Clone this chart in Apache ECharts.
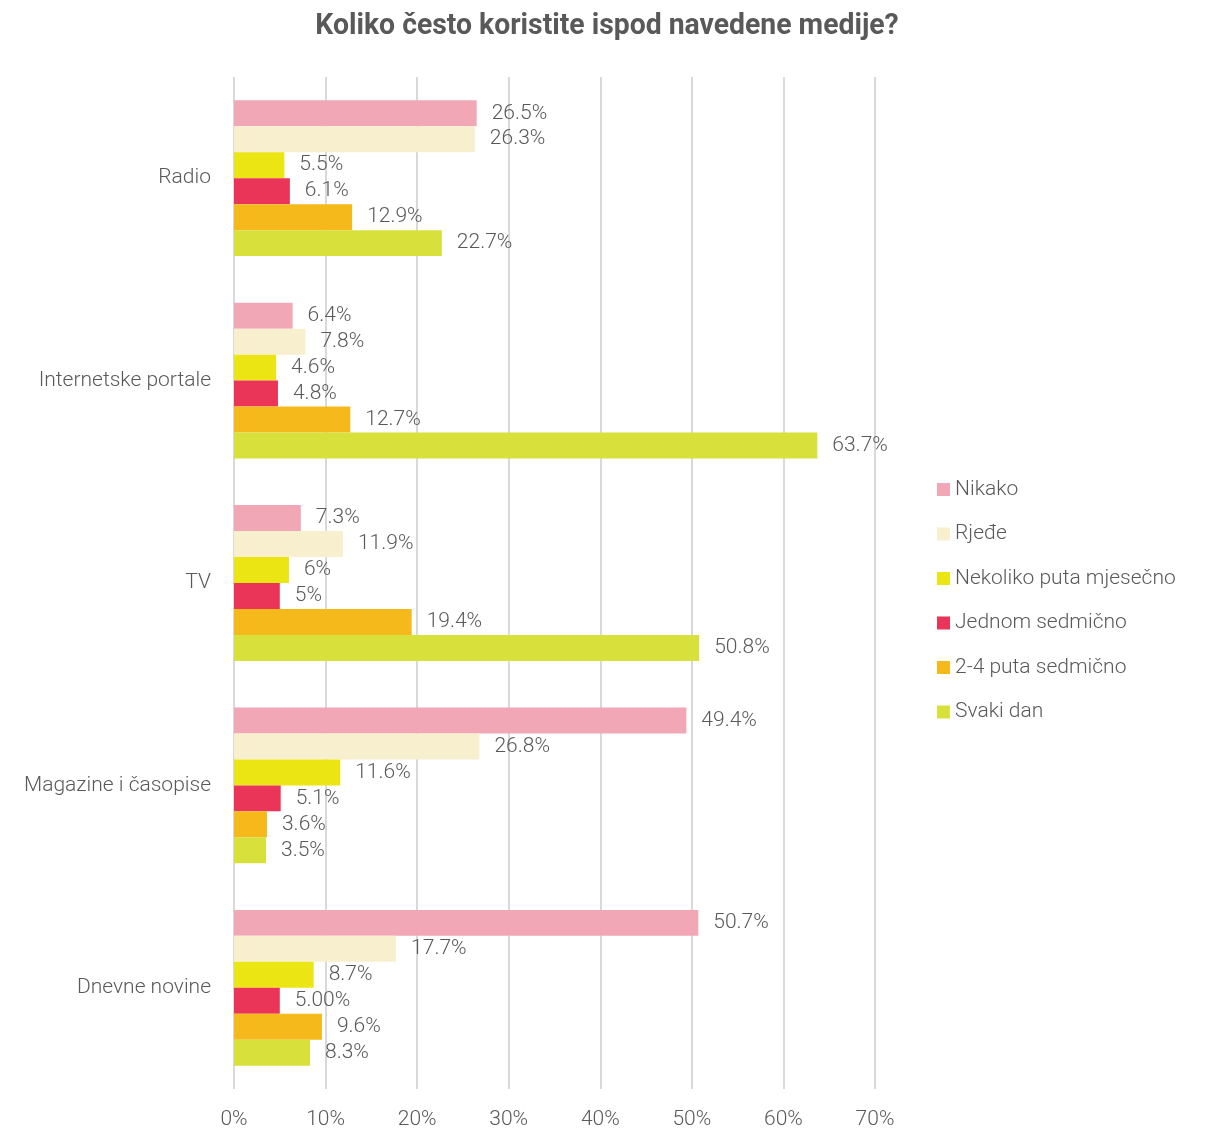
<!DOCTYPE html>
<html>
<head>
<meta charset="utf-8">
<script src="https://cdn.jsdelivr.net/npm/echarts@6/dist/echarts.min.js"></script>
<style>
html,body{margin:0;padding:0;background:#fff;}
#chart{width:1208px;height:1132px;}
</style>
</head>
<body>
<div id="chart"></div>
<script>
const categories = ['Radio', 'Internetske portale', 'TV', 'Magazine i časopise', 'Dnevne novine'];
const seriesNames = ['Nikako', 'Rjeđe', 'Nekoliko puta mjesečno', 'Jednom sedmično', '2-4 puta sedmično', 'Svaki dan'];
const nikako = [26.5, 6.4, 7.3, 49.4, 50.7];
const rjedje = [26.3, 7.8, 11.9, 26.8, 17.7];
const nekolikoMjesecno = [5.5, 4.6, 6, 11.6, 8.7];
const jednomSedmicno = [6.1, 4.8, 5, 5.1, 5.00];
const dvaCetiriSedmicno = [12.9, 12.7, 19.4, 3.6, 9.6];
const svakiDan = [22.7, 63.7, 50.8, 3.5, 8.3];
const labelNikako = ['26.5%', '6.4%', '7.3%', '49.4%', '50.7%'];
const labelRjedje = ['26.3%', '7.8%', '11.9%', '26.8%', '17.7%'];
const labelNekoliko = ['5.5%', '4.6%', '6%', '11.6%', '8.7%'];
const labelJednom = ['6.1%', '4.8%', '5%', '5.1%', '5.00%'];
const labelDvaCetiri = ['12.9%', '12.7%', '19.4%', '3.6%', '9.6%'];
const labelSvaki = ['22.7%', '63.7%', '50.8%', '3.5%', '8.3%'];
const xTicks = [0, 10, 20, 30, 40, 50, 60, 70];
const titleText = 'Koliko često koristite ispod navedene medije?';

const colors = ['#f2a7b6', '#f8efce', '#ece514', '#ea3458', '#f5b91b', '#d8e03b'];
const allValues = [nikako, rjedje, nekolikoMjesecno, jednomSedmicno, dvaCetiriSedmicno, svakiDan];
const allLabels = [labelNikako, labelRjedje, labelNekoliko, labelJednom, labelDvaCetiri, labelSvaki];
const FONT = 'Roboto, "DejaVu Sans Condensed", sans-serif';
const TXT = '#595959';

const chart = echarts.init(document.getElementById('chart'), null, {renderer: 'canvas'});
chart.setOption({
  backgroundColor: '#ffffff',
  animation: false,
  graphic: [{
    type: 'text', x: 607, y: 26, scaleX: 0.945,
    style: {
      text: titleText, align: 'center', verticalAlign: 'middle',
      font: 'bold 30px Roboto, sans-serif', fill: TXT
    }
  }],
  legend: {
    orient: 'vertical', left: 937, top: 479, padding: 0,
    itemWidth: 13, itemHeight: 13, itemGap: 23.5, itemNameGap: 6,
    icon: 'rect',
    textStyle: {fontFamily: FONT, fontWeight: 300, fontSize: 21, color: TXT},
    data: seriesNames
  },
  grid: {left: 234, right: 333, top: 77, bottom: 43, containLabel: false},
  xAxis: {
    type: 'value', min: 0, max: 70, interval: 10,
    axisLine: {show: false}, axisTick: {show: false},
    splitLine: {show: true, lineStyle: {color: '#d9d9d9', width: 2}},
    axisLabel: {formatter: v => v + '%', fontFamily: FONT, fontWeight: 300, fontSize: 21, color: TXT, margin: 20}
  },
  yAxis: {
    type: 'category', inverse: true, data: categories,
    axisLine: {show: false}, axisTick: {show: false},
    axisLabel: {fontFamily: FONT, fontWeight: 300, fontSize: 21, color: TXT, margin: 23}
  },
  series: seriesNames.map((name, i) => ({
    name: name, type: 'bar',
    data: allValues[i],
    barGap: '0%', barCategoryGap: '23%',
    itemStyle: {color: colors[i]},
    label: {
      show: true, position: 'right', distance: 15,
      fontFamily: FONT, fontWeight: 300, fontSize: 21, color: TXT,
      formatter: p => allLabels[i][p.dataIndex]
    }
  }))
});
</script>
</body>
</html>
